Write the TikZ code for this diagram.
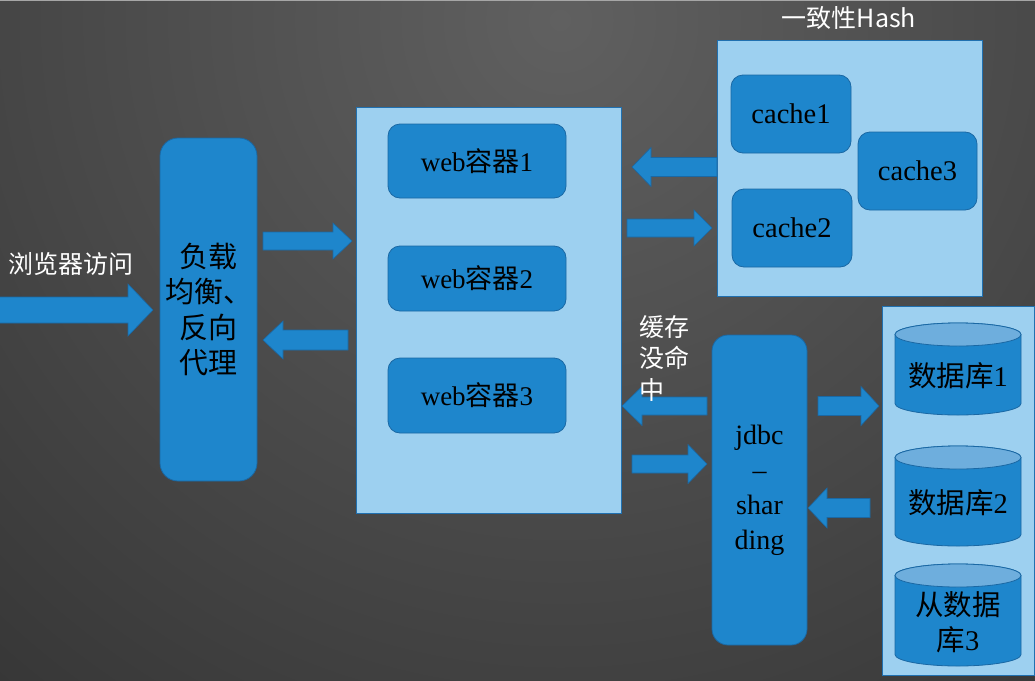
\documentclass[tikz,border=0pt]{standalone}
\usepackage{fontspec}
\setmainfont{Liberation Serif}
\newfontfamily\cjk{Noto Sans CJK SC}
\definecolor{boxblue}{RGB}{30,134,204}
\definecolor{boxedge}{RGB}{26,104,164}
\definecolor{lightblue}{RGB}{157,208,240}
\definecolor{lightedge}{RGB}{32,112,176}
\definecolor{dbtopc}{RGB}{110,174,221}
\definecolor{bgin}{RGB}{96,96,96}
\definecolor{bgout}{RGB}{30,30,30}
\tikzset{
  container/.style={draw=lightedge, line width=0.8pt, fill=lightblue, rectangle, inner sep=0pt},
  rbox/.style={draw=boxedge, line width=0.8pt, fill=boxblue, rectangle, rounded corners=#1, inner sep=0pt, align=center, text=black},
  rbox/.default=12pt,
  barrow/.style={draw=boxedge, line width=0.6pt, fill=boxblue},
  dbbody/.style={draw=boxedge, line width=0.8pt, fill=boxblue},
  dbtop/.style={draw=boxedge, line width=0.8pt, fill=dbtopc},
  wlabel/.style={text=white, inner sep=0pt, font=\cjk\fontsize{25}{31.5}\selectfont},
  btext/.style={text=black, inner sep=0pt, align=center}
}
\newcommand{\blockarr}[6]{%
  \draw[barrow] (#1,{#3-#4}) -- ({#2-#6},{#3-#4}) -- ({#2-#6},{#3-#5}) -- (#2,#3)
    -- ({#2-#6},{#3+#5}) -- ({#2-#6},{#3+#4}) -- (#1,{#3+#4}) -- cycle;}
\newcommand{\dbcyl}[3]{%
  \draw[dbbody] (895,{#1+11.5}) -- (895,{#2-11.5})
    arc[start angle=180, end angle=0, x radius=63, y radius=11.5]
    -- (1021,{#1+11.5})
    arc[start angle=0, end angle=-180, x radius=63, y radius=11.5] -- cycle;
  \draw[dbtop] (958,{#1+11.5}) ellipse [x radius=63, y radius=11.5];}
\begin{document}
\begin{tikzpicture}[x=1pt,y=-1pt]
\useasboundingbox (0,0) rectangle (1035,680);
% background
\begin{scope}
\clip (0,0) rectangle (1035,680);
\shade[inner color=bgin, outer color=bgout] (560,20) circle (1400);
\draw[gray!70, line width=1pt] (0,0.5) -- (1035,0.5);
\end{scope}

% block arrows
\blockarr{-2}{153}{310}{13}{26}{25}
\blockarr{263}{352}{241}{9}{18}{19}
\blockarr{348}{263}{340}{10}{19}{-20}
\blockarr{717}{632}{167}{9.5}{19.5}{-19}
\blockarr{627}{712}{228}{9}{18}{18}
\blockarr{707}{622}{406}{9}{19.5}{-20}
\blockarr{632}{707}{464}{9}{19.5}{19}
\blockarr{818}{879}{406}{9.5}{19.5}{18}
\blockarr{870}{808}{508}{9.5}{20}{-19}

% labels
\node[wlabel] (browser) at (71,264) {浏览器访问};
\node[wlabel, anchor=center] (hash) at (849,18) {一致性Hash};
\node[wlabel, anchor=west, align=left] (miss) at (639,358) {缓存\\没命\\中};

% load balancer
\node[rbox=18pt, minimum width=97pt, minimum height=343pt] (lb) at (208.5,309.5) {};
\node[btext, font=\cjk\fontsize{29}{35.5}\selectfont] (lbt) at (lb.center) {负载\\均衡、\\反向\\代理};

% web container
\node[container, minimum width=265pt, minimum height=406pt] (web) at (488.5,310) {};
\node[rbox, minimum width=178pt, minimum height=74pt, font=\fontsize{27}{32}\selectfont] (web1) at (477,161) {web{\cjk 容器}1};
\node[rbox, minimum width=178pt, minimum height=65pt, font=\fontsize{27}{32}\selectfont] (web2) at (477,278.5) {web{\cjk 容器}2};
\node[rbox, minimum width=178pt, minimum height=75pt, font=\fontsize{27}{32}\selectfont] (web3) at (477,395.5) {web{\cjk 容器}3};

% cache container
\node[container, minimum width=265pt, minimum height=256pt] (cachebox) at (849.5,168) {};
\node[rbox, minimum width=120pt, minimum height=78pt, font=\fontsize{28.5}{32}\selectfont] (cache1) at (791,114) {cache1};
\node[rbox, minimum width=120pt, minimum height=78pt, font=\fontsize{28.5}{32}\selectfont] (cache2) at (792,228) {cache2};
\node[rbox, minimum width=119pt, minimum height=78pt, font=\fontsize{28.5}{32}\selectfont] (cache3) at (917.5,171) {cache3};

% jdbc
\node[rbox=16pt, minimum width=95pt, minimum height=310pt] (jdbc) at (759.5,490) {};
\node[btext, font=\fontsize{28}{35}\selectfont] (jdbct) at (jdbc.center) {jdbc\\–\\shar\\ding};

% db container
\node[container, minimum width=152pt, minimum height=369pt] (dbbox) at (958,490.5) {};
\dbcyl{323}{415}{}
\dbcyl{446}{546}{}
\dbcyl{564}{666}{}
\node[btext, font=\fontsize{28.5}{35}\selectfont] (db1) at (958,376) {{\cjk 数据库}1};
\node[btext, font=\fontsize{28.5}{35}\selectfont] (db2) at (958,503) {{\cjk 数据库}2};
\node[btext, font=\fontsize{28.5}{35}\selectfont] (db3) at (958,622) {{\cjk 从数据}\\{\cjk 库}3};
\end{tikzpicture}
\end{document}
